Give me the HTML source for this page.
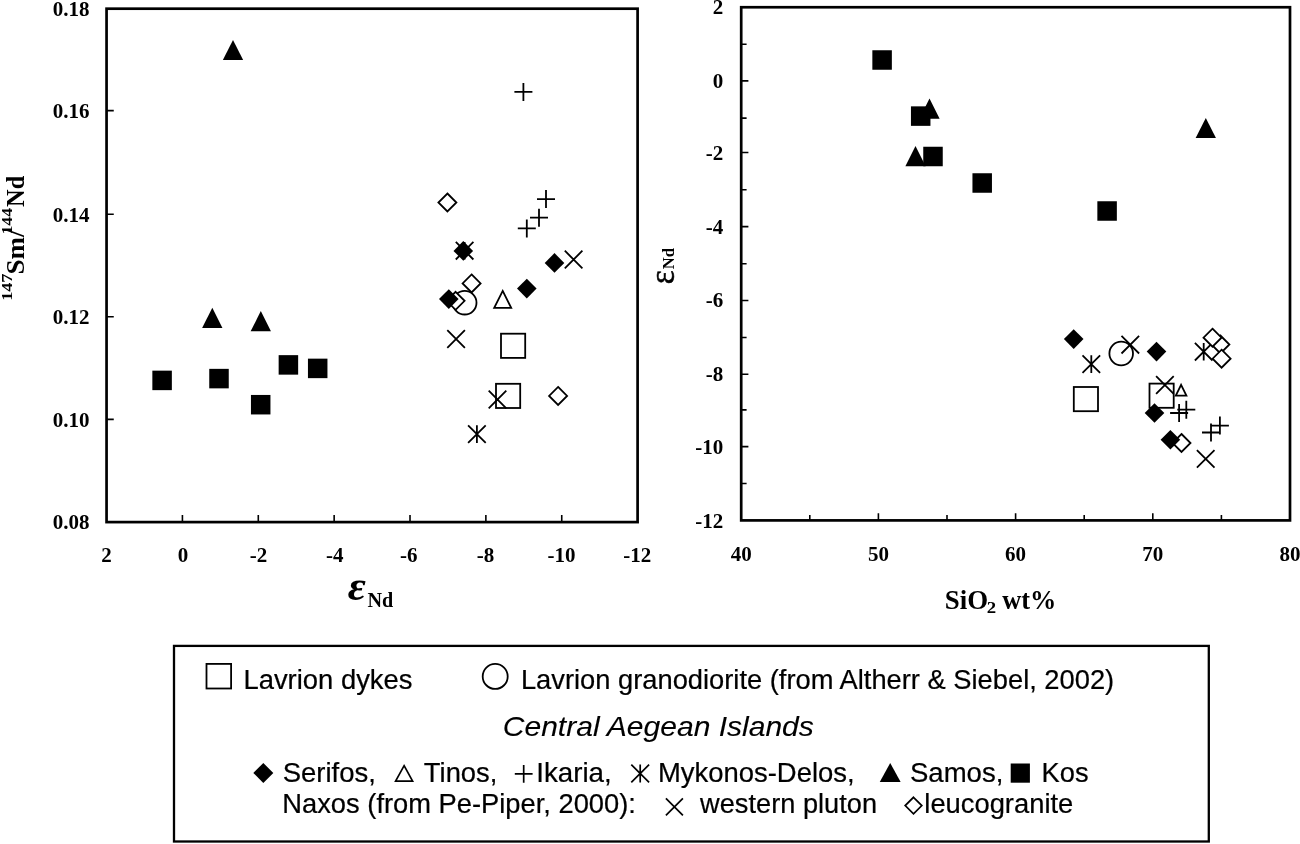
<!DOCTYPE html>
<html lang="en">
<head>
<meta charset="utf-8">
<title>Nd isotope plots</title>
<style>
html,body{margin:0;padding:0;background:#fff;}
body{width:1300px;height:844px;overflow:hidden;}
svg{display:block;}
text{fill:#000;}
.sb{font-family:"Liberation Serif",serif;font-weight:bold;}
.sbi{font-family:"Liberation Serif",serif;font-weight:bold;font-style:italic;}
.sr{font-family:"Liberation Serif",serif;stroke:#000;stroke-width:0.5px;}
.si{font-family:"Liberation Serif",serif;font-style:italic;}
.lg{font-family:"Liberation Sans",sans-serif;stroke:#000;stroke-width:0.22px;}
.lgi{font-family:"Liberation Sans",sans-serif;font-style:italic;stroke:#000;stroke-width:0.1px;}
</style>
</head>
<body>
<svg width="1300" height="844" viewBox="0 0 1300 844">
<rect x="0" y="0" width="1300" height="844" fill="#fff"/>
<rect x="106.56" y="8.7" width="531.04" height="513.40" fill="none" stroke="#000" stroke-width="2.7"/>
<path d="M106.56 110.58h7.2 M106.56 214.26h7.2 M106.56 316.74h7.2 M106.56 419.42h7.2 M182.42 522.1v-7.2 M258.29 522.1v-7.2 M334.15 522.1v-7.2 M410.01 522.1v-7.2 M485.87 522.1v-7.2 M561.74 522.1v-7.2" stroke="#000" stroke-width="1.6" fill="none"/>
<text class="sb" font-size="21" x="89.6" y="16.00" text-anchor="end">0.18</text>
<text class="sb" font-size="21" x="89.6" y="117.58" text-anchor="end">0.16</text>
<text class="sb" font-size="21" x="89.6" y="221.76" text-anchor="end">0.14</text>
<text class="sb" font-size="21" x="89.6" y="323.64" text-anchor="end">0.12</text>
<text class="sb" font-size="21" x="89.6" y="426.72" text-anchor="end">0.10</text>
<text class="sb" font-size="21" x="89.6" y="529.40" text-anchor="end">0.08</text>
<text class="sb" font-size="21" x="106.56" y="561.8" text-anchor="middle">2</text>
<text class="sb" font-size="21" x="183.02" y="561.8" text-anchor="middle">0</text>
<text class="sb" font-size="21" x="258.49" y="561.8" text-anchor="middle">-2</text>
<text class="sb" font-size="21" x="334.75" y="561.8" text-anchor="middle">-4</text>
<text class="sb" font-size="21" x="408.81" y="561.8" text-anchor="middle">-6</text>
<text class="sb" font-size="21" x="485.47" y="561.8" text-anchor="middle">-8</text>
<text class="sb" font-size="21" x="561.44" y="561.8" text-anchor="middle">-10</text>
<text class="sb" font-size="21" x="637.30" y="561.8" text-anchor="middle">-12</text>
<text class="sb" font-size="15.5" transform="translate(11.6 300.86) rotate(-90) scale(1.1747 1)">147</text>
<text class="sb" font-size="26" transform="translate(24.2 274.49) rotate(-90) scale(1.0399 1)">Sm/</text>
<text class="sb" font-size="15.5" transform="translate(11.6 234.52) rotate(-90) scale(1.1429 1)">144</text>
<text class="sb" font-size="26" transform="translate(24.2 206.89) rotate(-90) scale(0.9361 1)">Nd</text>
<text class="sbi" font-size="42" transform="translate(347.76 600.0) scale(1.0501 1)">ε</text>
<text class="sb" font-size="21" transform="translate(367.40 606.6) scale(0.9600 1)">Nd</text>
<path d="M455.80 241.90L473.40 259.50M455.80 259.50L473.40 241.90M464.60 241.90V259.50" stroke="#000" stroke-width="1.8" fill="none"/>
<path d="M468.10 425.30L485.70 442.90M468.10 442.90L485.70 425.30M476.90 425.30V442.90" stroke="#000" stroke-width="1.8" fill="none"/>
<circle cx="464.70" cy="302.70" r="11.8" fill="none" stroke="#000" stroke-width="1.8"/>
<rect x="501.00" y="333.70" width="24.2" height="24.2" fill="none" stroke="#000" stroke-width="1.8"/>
<rect x="496.00" y="383.80" width="24.2" height="24.2" fill="none" stroke="#000" stroke-width="1.8"/>
<polygon points="502.70,290.90 511.20,307.90 494.20,307.90" fill="#fff" stroke="#000" stroke-width="1.8" stroke-linejoin="miter"/>
<path d="M514.40 91.90H532.40M523.40 82.90V100.90" stroke="#000" stroke-width="1.8" fill="none"/>
<path d="M537.00 199.10H555.00M546.00 190.10V208.10" stroke="#000" stroke-width="1.8" fill="none"/>
<path d="M530.00 217.70H548.00M539.00 208.70V226.70" stroke="#000" stroke-width="1.8" fill="none"/>
<path d="M517.80 228.40H535.80M526.80 219.40V237.40" stroke="#000" stroke-width="1.8" fill="none"/>
<polygon points="447.40,193.50 456.40,202.50 447.40,211.50 438.40,202.50" fill="#fff" stroke="#000" stroke-width="1.8"/>
<polygon points="471.60,274.40 480.60,283.40 471.60,292.40 462.60,283.40" fill="#fff" stroke="#000" stroke-width="1.8"/>
<polygon points="455.60,291.80 464.60,300.80 455.60,309.80 446.60,300.80" fill="#fff" stroke="#000" stroke-width="1.8"/>
<polygon points="558.10,386.90 567.10,395.90 558.10,404.90 549.10,395.90" fill="#fff" stroke="#000" stroke-width="1.8"/>
<polygon points="463.30,241.10 473.10,250.90 463.30,260.70 453.50,250.90" fill="#000"/>
<polygon points="554.50,253.10 564.30,262.90 554.50,272.70 544.70,262.90" fill="#000"/>
<polygon points="526.80,278.80 536.60,288.60 526.80,298.40 517.00,288.60" fill="#000"/>
<polygon points="448.80,289.30 458.60,299.10 448.80,308.90 439.00,299.10" fill="#000"/>
<path d="M564.80 250.70L582.40 268.30M564.80 268.30L582.40 250.70" stroke="#000" stroke-width="1.8" fill="none"/>
<path d="M447.30 330.20L464.90 347.80M447.30 347.80L464.90 330.20" stroke="#000" stroke-width="1.8" fill="none"/>
<path d="M488.70 390.70L506.30 408.30M488.70 408.30L506.30 390.70" stroke="#000" stroke-width="1.8" fill="none"/>
<polygon points="233.00,39.90 243.15,60.10 222.85,60.10" fill="#000"/>
<polygon points="212.30,307.70 222.45,327.90 202.15,327.90" fill="#000"/>
<polygon points="260.80,311.10 270.95,331.30 250.65,331.30" fill="#000"/>
<rect x="152.35" y="370.65" width="19.5" height="19.5" fill="#000"/>
<rect x="209.25" y="368.85" width="19.5" height="19.5" fill="#000"/>
<rect x="250.95" y="394.95" width="19.5" height="19.5" fill="#000"/>
<rect x="278.65" y="355.15" width="19.5" height="19.5" fill="#000"/>
<rect x="307.95" y="358.65" width="19.5" height="19.5" fill="#000"/>
<rect x="741.2" y="7.25" width="548.80" height="513.15" fill="none" stroke="#000" stroke-width="2.7"/>
<path d="M741.2 44.20h5.4 M741.2 80.86h7.2 M741.2 118.11h5.4 M741.2 152.56h7.2 M741.2 189.82h5.4 M741.2 226.67h7.2 M741.2 263.82h5.4 M741.2 300.48h7.2 M741.2 337.43h5.4 M741.2 374.29h7.2 M741.2 409.84h5.4 M741.2 446.59h7.2 M741.2 483.45h5.4 M809.80 520.4v-5.4 M878.40 520.4v-7.2 M947.00 520.4v-5.4 M1015.60 520.4v-7.2 M1084.20 520.4v-5.4 M1152.80 520.4v-7.2 M1221.40 520.4v-5.4" stroke="#000" stroke-width="1.6" fill="none"/>
<text class="sb" font-size="21" x="723.2" y="13.75" text-anchor="end">2</text>
<text class="sb" font-size="21" x="723.2" y="87.86" text-anchor="end">0</text>
<text class="sb" font-size="21" x="723.2" y="159.96" text-anchor="end">-2</text>
<text class="sb" font-size="21" x="723.2" y="233.87" text-anchor="end">-4</text>
<text class="sb" font-size="21" x="723.2" y="307.28" text-anchor="end">-6</text>
<text class="sb" font-size="21" x="723.2" y="381.09" text-anchor="end">-8</text>
<text class="sb" font-size="21" x="723.2" y="453.99" text-anchor="end">-10</text>
<text class="sb" font-size="21" x="723.2" y="527.70" text-anchor="end">-12</text>
<text class="sb" font-size="21" x="741.20" y="560.6" text-anchor="middle">40</text>
<text class="sb" font-size="21" x="878.40" y="560.6" text-anchor="middle">50</text>
<text class="sb" font-size="21" x="1015.60" y="560.6" text-anchor="middle">60</text>
<text class="sb" font-size="21" x="1152.80" y="560.6" text-anchor="middle">70</text>
<text class="sb" font-size="21" x="1290.00" y="560.6" text-anchor="middle">80</text>
<text class="sr" font-size="36" transform="translate(674.3 284.24) rotate(-90) scale(0.9286 1)">ε</text>
<text class="sb" font-size="17.5" transform="translate(674.1 269.33) rotate(-90) scale(0.9501 1)">Nd</text>
<text class="sb" font-size="26.8" transform="translate(944.72 608.8) scale(1.0033 1)">SiO</text>
<text class="sb" font-size="17" transform="translate(986.85 613.4) scale(1.1056 1)">2</text>
<text class="sb" font-size="26.8" transform="translate(1002.27 608.8) scale(0.9810 1)">wt%</text>
<path d="M1082.50 355.30L1100.10 372.90M1082.50 372.90L1100.10 355.30M1091.30 355.30V372.90" stroke="#000" stroke-width="1.8" fill="none"/>
<path d="M1194.90 342.90L1212.50 360.50M1194.90 360.50L1212.50 342.90M1203.70 342.90V360.50" stroke="#000" stroke-width="1.8" fill="none"/>
<circle cx="1121.20" cy="353.50" r="11.8" fill="none" stroke="#000" stroke-width="1.8"/>
<rect x="1073.80" y="387.00" width="24.2" height="24.2" fill="none" stroke="#000" stroke-width="1.8"/>
<rect x="1149.50" y="383.60" width="24.2" height="24.2" fill="none" stroke="#000" stroke-width="1.8"/>
<polygon points="1181.10,384.90 1186.40,395.70 1175.80,395.70" fill="#fff" stroke="#000" stroke-width="1.8" stroke-linejoin="miter"/>
<path d="M1170.10 413.00H1188.10M1179.10 404.00V422.00" stroke="#000" stroke-width="1.8" fill="none"/>
<path d="M1177.30 409.70H1195.30M1186.30 400.70V418.70" stroke="#000" stroke-width="1.8" fill="none"/>
<path d="M1202.00 432.50H1220.00M1211.00 423.50V441.50" stroke="#000" stroke-width="1.8" fill="none"/>
<path d="M1210.90 425.60H1228.90M1219.90 416.60V434.60" stroke="#000" stroke-width="1.8" fill="none"/>
<polygon points="1220.40,335.50 1229.40,344.50 1220.40,353.50 1211.40,344.50" fill="#fff" stroke="#000" stroke-width="1.8"/>
<polygon points="1212.50,328.70 1221.50,337.70 1212.50,346.70 1203.50,337.70" fill="#fff" stroke="#000" stroke-width="1.8"/>
<polygon points="1221.60,349.70 1230.60,358.70 1221.60,367.70 1212.60,358.70" fill="#fff" stroke="#000" stroke-width="1.8"/>
<polygon points="1181.50,434.00 1190.50,443.00 1181.50,452.00 1172.50,443.00" fill="#fff" stroke="#000" stroke-width="1.8"/>
<polygon points="1073.70,329.30 1083.50,339.10 1073.70,348.90 1063.90,339.10" fill="#000"/>
<polygon points="1156.50,341.80 1166.30,351.60 1156.50,361.40 1146.70,351.60" fill="#000"/>
<polygon points="1154.50,403.20 1164.30,413.00 1154.50,422.80 1144.70,413.00" fill="#000"/>
<polygon points="1170.40,429.90 1180.20,439.70 1170.40,449.50 1160.60,439.70" fill="#000"/>
<path d="M1121.50 335.90L1139.10 353.50M1121.50 353.50L1139.10 335.90" stroke="#000" stroke-width="1.8" fill="none"/>
<path d="M1156.10 376.20L1173.70 393.80M1156.10 393.80L1173.70 376.20" stroke="#000" stroke-width="1.8" fill="none"/>
<path d="M1196.90 450.10L1214.50 467.70M1196.90 467.70L1214.50 450.10" stroke="#000" stroke-width="1.8" fill="none"/>
<polygon points="929.50,98.60 939.65,118.80 919.35,118.80" fill="#000"/>
<polygon points="915.50,146.10 925.65,166.30 905.35,166.30" fill="#000"/>
<polygon points="1205.80,117.90 1215.95,138.10 1195.65,138.10" fill="#000"/>
<rect x="872.35" y="50.25" width="19.5" height="19.5" fill="#000"/>
<rect x="910.95" y="106.35" width="19.5" height="19.5" fill="#000"/>
<rect x="923.25" y="146.75" width="19.5" height="19.5" fill="#000"/>
<rect x="972.45" y="173.25" width="19.5" height="19.5" fill="#000"/>
<rect x="1097.35" y="201.25" width="19.5" height="19.5" fill="#000"/>
<rect x="174" y="645.9" width="1034.8" height="195.6" fill="none" stroke="#000" stroke-width="2.3"/>
<rect x="206.50" y="663.90" width="24.6" height="24.6" fill="none" stroke="#000" stroke-width="1.8"/>
<text class="lg" font-size="27.3" transform="translate(243.41 689.0) scale(1.0042 1)">Lavrion dykes</text>
<circle cx="495.20" cy="676.40" r="12.5" fill="none" stroke="#000" stroke-width="1.8"/>
<text class="lg" font-size="27.3" transform="translate(520.92 689.0) scale(1.0000 1)">Lavrion granodiorite (from Altherr &amp; Siebel, 2002)</text>
<text class="lgi" font-size="28.5" transform="translate(502.75 736.0) scale(1.0545 1)">Central Aegean Islands</text>
<polygon points="263.30,762.90 273.30,772.90 263.30,782.90 253.30,772.90" fill="#000"/>
<text class="lg" font-size="27.3" transform="translate(282.66 781.9) scale(1.0072 1)">Serifos,</text>
<polygon points="404.10,765.70 412.60,781.10 395.60,781.10" fill="#fff" stroke="#000" stroke-width="1.7" stroke-linejoin="miter"/>
<text class="lg" font-size="27.3" transform="translate(423.85 781.9) scale(1.0024 1)">Tinos,</text>
<path d="M514.80 773.90H532.60M523.70 765.00V782.80" stroke="#000" stroke-width="1.7" fill="none"/>
<text class="lg" font-size="27.3" transform="translate(536.20 781.9) scale(1.0161 1)">Ikaria,</text>
<path d="M631.30 764.60L649.10 782.40M631.30 782.40L649.10 764.60M640.20 764.60V782.40" stroke="#000" stroke-width="1.7" fill="none"/>
<text class="lg" font-size="27.3" transform="translate(657.90 781.9) scale(1.0058 1)">Mykonos-Delos,</text>
<polygon points="890.20,763.10 900.65,781.90 879.75,781.90" fill="#000"/>
<text class="lg" font-size="27.3" transform="translate(909.96 781.9) scale(1.0094 1)">Samos,</text>
<rect x="1010.70" y="763.50" width="19.2" height="19.2" fill="#000"/>
<text class="lg" font-size="27.3" transform="translate(1041.62 781.9) scale(0.9988 1)">Kos</text>
<text class="lg" font-size="27.3" transform="translate(282.32 812.8) scale(1.0004 1)">Naxos (from Pe-Piper, 2000):</text>
<path d="M665.90 798.40L682.90 815.40M665.90 815.40L682.90 798.40" stroke="#000" stroke-width="1.7" fill="none"/>
<text class="lg" font-size="27.3" transform="translate(700.10 812.8) scale(0.9965 1)">western pluton</text>
<polygon points="913.50,797.30 921.80,805.60 913.50,813.90 905.20,805.60" fill="#fff" stroke="#000" stroke-width="1.7"/>
<text class="lg" font-size="27.3" transform="translate(924.32 812.8) scale(1.0017 1)">leucogranite</text>
</svg>
</body>
</html>
